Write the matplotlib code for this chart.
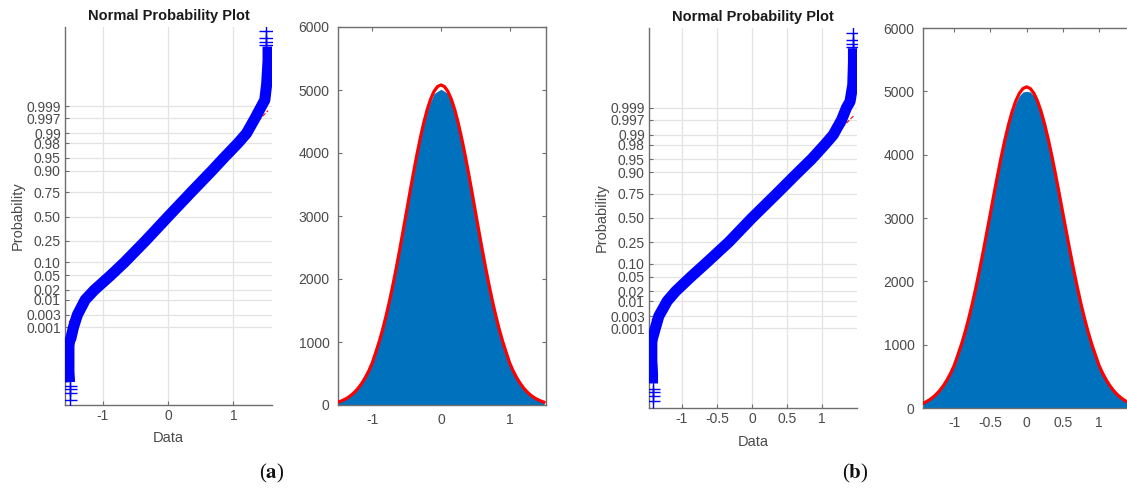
import numpy as np
import matplotlib
matplotlib.use('Agg')
import matplotlib.pyplot as plt
from statistics import NormalDist

plt.rcParams['font.family'] = ['Liberation Sans', 'DejaVu Sans']
plt.rcParams['mathtext.fontset'] = 'stix'

# ---------------- data ----------------
prob_ticks = [0.001, 0.003, 0.01, 0.02, 0.05, 0.10, 0.25, 0.50, 0.75, 0.90, 0.95, 0.98, 0.99, 0.997, 0.999]
prob_tick_labels = ['0.001', '0.003', '0.01', '0.02', '0.05', '0.10', '0.25', '0.50', '0.75',
                    '0.90', '0.95', '0.98', '0.99', '0.997', '0.999']

# (a) normal probability plot: sorted data vs probability
a_pp_data = [-1.51, -1.52, -1.52, -1.52, -1.51, -1.49, -1.45, -1.39, -1.27, -1.13, -0.88, -0.67, -0.345,
             0.0, 0.35, 0.67, 0.855, 1.07, 1.20, 1.33, 1.43, 1.48, 1.51, 1.53, 1.53]
a_pp_prob = [1.8e-6, 6.8e-6, 3.2e-5, 1.5e-4, 2.5e-4, 3.3e-4, 0.001, 0.003, 0.01, 0.02, 0.05, 0.10, 0.25,
             0.50, 0.75, 0.90, 0.95, 0.98, 0.99, 0.997, 0.999, 1 - 5.6e-4, 1 - 9.6e-5, 1 - 6.2e-6, 1 - 1.0e-6]
a_tail_data = [-1.51, -1.51, -1.51, -1.51, 1.50, 1.50, 1.50, 1.50]
a_tail_prob = [1.4e-7, 4.1e-7, 7.2e-7, 1.1e-6, 1 - 8.3e-7, 1 - 5.3e-7, 1 - 3.2e-7, 1 - 1.05e-7]

# (b) normal probability plot
b_pp_data = [-1.42, -1.42, -1.43, -1.43, -1.43, -1.42, -1.38, -1.33, -1.21, -1.09, -0.87, -0.665, -0.33,
             0.0, 0.35, 0.66, 0.85, 1.04, 1.16, 1.28, 1.35, 1.40, 1.44, 1.45, 1.45]
b_pp_prob = [1.8e-6, 6.8e-6, 3.2e-5, 1.5e-4, 2.5e-4, 3.8e-4, 0.001, 0.003, 0.01, 0.02, 0.05, 0.10, 0.25,
             0.50, 0.75, 0.90, 0.95, 0.98, 0.99, 0.997, 0.999, 1 - 5.6e-4, 1 - 9.6e-5, 1 - 6.2e-6, 1 - 1.0e-6]
b_tail_data = [-1.41, -1.41, -1.41, -1.41, 1.44, 1.44, 1.44, 1.44]
b_tail_prob = [1.5e-7, 3.1e-7, 5.8e-7, 9.0e-7, 1 - 8.3e-7, 1 - 5.3e-7, 1 - 3.2e-7, 1 - 1.05e-7]

# histogram bin centres and counts
a_bins = [round(-1.5 + 0.05 * i, 2) for i in range(61)]
a_fit_half = [5080, 5055, 4980, 4857, 4690, 4483, 4243, 3977, 3690, 3390, 3081, 2775, 2473, 2182, 1907,
              1649, 1413, 1197, 1005, 836, 670, 545, 440, 350, 275, 213, 163, 122, 90, 65, 45]
a_fit = a_fit_half[:0:-1] + a_fit_half
a_hist_half = [5010, 4980, 4940, 4820, 4660, 4460, 4225, 3960, 3676, 3380, 3072, 2768, 2466, 2176, 1902,
               1645, 1409, 1194, 1002, 833, 667, 543, 438, 348, 273, 211, 161, 120, 88, 63, 43]
a_hist = a_hist_half[:0:-1] + a_hist_half

b_bins = [round(-1.5 + 0.05 * i, 2) for i in range(61)]
b_fit_half = [5070, 5045, 4970, 4847, 4680, 4474, 4235, 3969, 3682, 3383, 3075, 2770, 2468, 2178, 1903,
              1646, 1410, 1195, 1003, 834, 670, 545, 440, 350, 275, 213, 163, 122, 90, 62, 42]
b_fit = b_fit_half[:0:-1] + b_fit_half
b_hist_half = [5000, 4990, 4930, 4810, 4650, 4455, 4218, 3952, 3668, 3373, 3066, 2763, 2462, 2173, 1899,
               1642, 1406, 1192, 1000, 831, 667, 543, 438, 348, 273, 211, 161, 120, 88, 60, 40]
b_hist = b_hist_half[:0:-1] + b_hist_half

hist_yticks = [0, 1000, 2000, 3000, 4000, 5000, 6000]

# ---------------- probability scale ----------------
_nd = NormalDist()


def _fwd(p):
    p = np.clip(np.asarray(p, dtype=float), 1e-15, 1 - 1e-15)
    return np.vectorize(_nd.inv_cdf, otypes=[float])(p)


def _inv(z):
    z = np.asarray(z, dtype=float)
    return np.vectorize(_nd.cdf, otypes=[float])(z)


SPINE = '#6e6e6e'
TXT = '#4a4a4a'
BLUE_HIST = '#0072BD'

fig = plt.figure(figsize=(11.27, 4.88), dpi=100)


def prob_panel(rect, xd, pd_, tx, tp, xlim, zlim, xticks):
    ax = fig.add_axes(rect)
    ax.set_yscale('function', functions=(_fwd, _inv))
    # reference line through quartiles
    q25 = xd[pd_.index(0.25)]
    q75 = xd[pd_.index(0.75)]
    z25, z75 = _nd.inv_cdf(0.25), _nd.inv_cdf(0.75)
    slope = (z75 - z25) / (q75 - q25)
    xs = np.array([min(xd), max(xd)])
    zs = z25 + slope * (xs - q25)
    ax.plot(xs, _inv(zs), color='red', lw=0.8, ls='--', zorder=2)
    ax.plot(xd, pd_, color='#0000ff', lw=8, solid_capstyle='butt', solid_joinstyle='round', zorder=3)
    ax.plot(tx, tp, ls='none', color='#0000ff', marker='+', ms=10, mew=1.0, zorder=3)
    ax.set_xlim(*xlim)
    ax.set_ylim(_inv(zlim[0]), _inv(zlim[1]))
    ax.set_yticks(prob_ticks)
    ax.set_yticklabels(prob_tick_labels)
    ax.yaxis.set_minor_locator(matplotlib.ticker.NullLocator())
    ax.set_xticks(xticks)
    ax.set_xticklabels([('%g' % t) for t in xticks])
    ax.grid(True, color='#e3e3e3', lw=0.9)
    ax.set_axisbelow(True)
    for s in ('top', 'right'):
        ax.spines[s].set_visible(False)
    for s in ('left', 'bottom'):
        ax.spines[s].set_color(SPINE)
        ax.spines[s].set_linewidth(1.0)
    ax.tick_params(direction='in', length=3, color=SPINE, labelcolor=TXT, labelsize=10, pad=3)
    ax.set_title('Normal Probability Plot', fontsize=10.5, fontweight='bold', color='#1a1a1a', pad=5)
    ax.set_xlabel('Data', fontsize=10.5, color=TXT, labelpad=6)
    ax.set_ylabel('Probability', fontsize=10.5, color=TXT, labelpad=1)
    return ax


def hist_panel(rect, bins, hist, fit, xlim, xticks):
    ax = fig.add_axes(rect)
    ax.fill_between(bins, hist, 0, color=BLUE_HIST, lw=0, zorder=2)
    ax.plot(bins, fit, color='#ff0000', lw=2.3, zorder=3)
    ax.set_xlim(*xlim)
    ax.set_ylim(0, 6000)
    ax.set_yticks(hist_yticks)
    ax.set_yticklabels([str(v) for v in hist_yticks])
    ax.set_xticks(xticks)
    ax.set_xticklabels([('%g' % t) for t in xticks])
    for s in ax.spines.values():
        s.set_color(SPINE)
        s.set_linewidth(1.0)
    ax.tick_params(direction='in', length=3, color=SPINE, labelcolor=TXT, labelsize=10,
                   top=True, right=True, pad=6)
    return ax


prob_panel([65 / 1127, 1 - 405 / 488, 207 / 1127, 378 / 488], a_pp_data, a_pp_prob, a_tail_data, a_tail_prob,
           (-1.58, 1.59), (-5.27, 5.30), [-1, 0, 1])
hist_panel([338 / 1127, 1 - 405 / 488, 208 / 1127, 378 / 488], a_bins, a_hist, a_fit,
           (-1.5, 1.53), [-1, 0, 1])
prob_panel([649 / 1127, 1 - 408 / 488, 208 / 1127, 380 / 488], b_pp_data, b_pp_prob, b_tail_data, b_tail_prob,
           (-1.47, 1.50), (-5.32, 5.32), [-1, -0.5, 0, 0.5, 1])
hist_panel([923 / 1127, 1 - 408 / 488, 208 / 1127, 380 / 488], b_bins, b_hist, b_fit,
           (-1.43, 1.44), [-1, -0.5, 0, 0.5, 1])

fig.text(272 / 1127, 1 - 473 / 488, r'($\mathbf{a}$)', fontsize=15, family='Liberation Serif',
         ha='center', va='center', color='#111111')
fig.text(855 / 1127, 1 - 473 / 488, r'($\mathbf{b}$)', fontsize=15, family='Liberation Serif',
         ha='center', va='center', color='#111111')

fig.savefig('out.png', dpi=100)
